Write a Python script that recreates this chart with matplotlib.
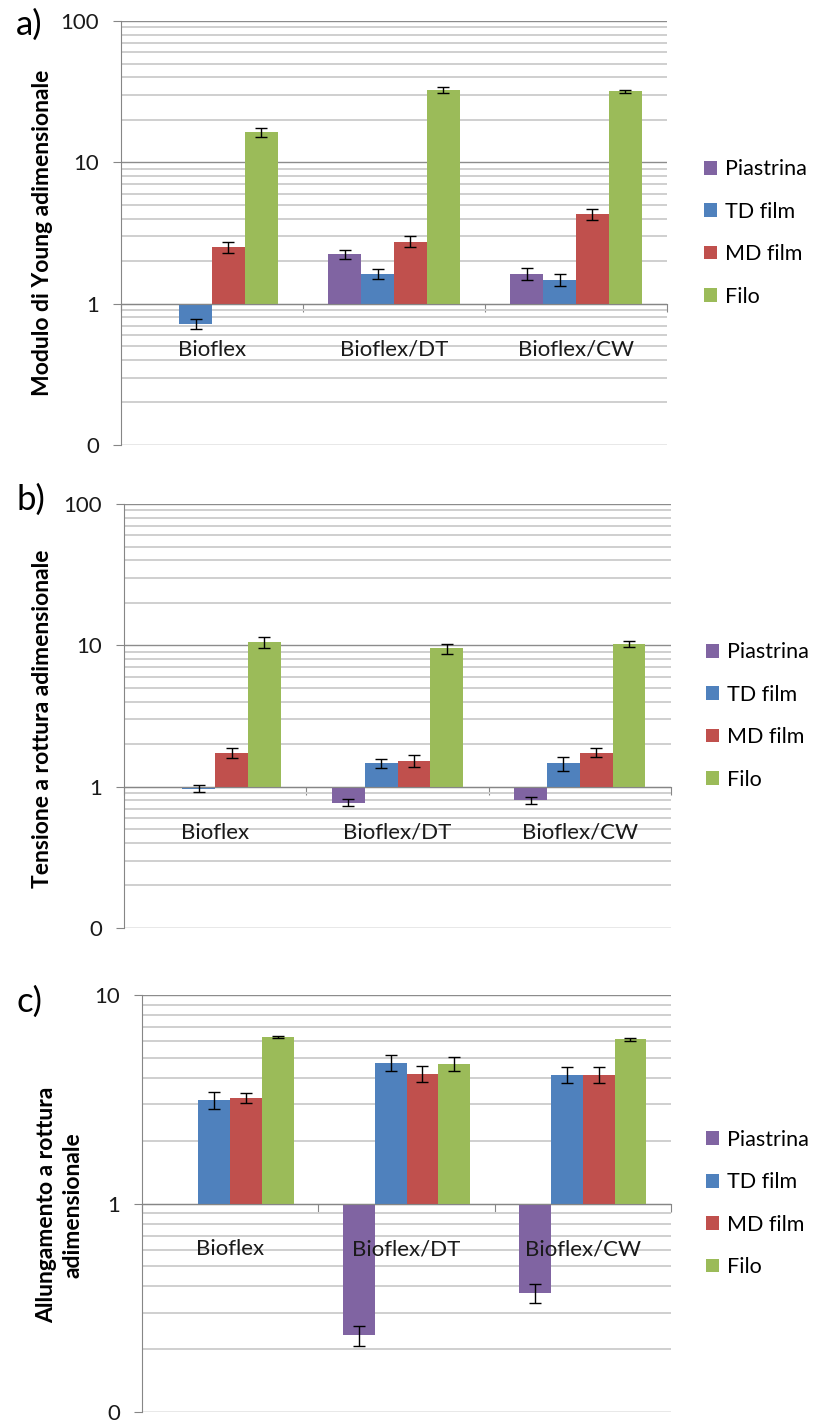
import matplotlib
matplotlib.use("Agg")
import matplotlib.pyplot as plt
import numpy as np

nan = np.nan

categories = ["Bioflex", "Bioflex/DT", "Bioflex/CW"]
series = ["Piastrina", "TD film", "MD film", "Filo"]
colors = ["#8064A2", "#4F81BD", "#C0504D", "#9BBB59"]

# a) Modulo di Young
young_piastrina = [nan, 2.23, 1.63]
young_td = [0.72, 1.63, 1.48]
young_md = [2.5, 2.75, 4.28]
young_filo = [16.3, 32.4, 31.9]
young_piastrina_err = [nan, 0.16, 0.15]
young_td_err = [0.06, 0.14, 0.15]
young_md_err = [0.22, 0.25, 0.38]
young_filo_err = [1.2, 1.6, 0.8]

# b) Tensione a rottura
tens_piastrina = [nan, 0.77, 0.80]
tens_td = [0.97, 1.46, 1.46]
tens_md = [1.74, 1.53, 1.74]
tens_filo = [10.5, 9.5, 10.3]
tens_piastrina_err = [nan, 0.045, 0.04]
tens_td_err = [0.06, 0.10, 0.16]
tens_md_err = [0.15, 0.15, 0.13]
tens_filo_err = [0.9, 0.8, 0.5]

# c) Allungamento a rottura
allu_piastrina = [nan, 0.233, 0.372]
allu_td = [3.13, 4.73, 4.15]
allu_md = [3.2, 4.2, 4.15]
allu_filo = [6.3, 4.68, 6.13]
allu_piastrina_err = [nan, 0.025, 0.037]
allu_td_err = [0.3, 0.4, 0.36]
allu_md_err = [0.17, 0.38, 0.37]
allu_filo_err = [0.07, 0.38, 0.1]

plt.rcParams['font.family'] = ['Lato', 'DejaVu Sans']

W, H = 814, 1426


def fig_rect(left, top, right, bottom):
    return [left / W, 1 - bottom / H, (right - left) / W, (bottom - top) / H]


def panel(fig, rect, vals, errs, ymax, ylabel, ylabel_pos, letter, letter_pos, legend_x):
    ax = fig.add_axes(rect)
    ax.set_yscale('log')
    ax.set_ylim(0.1, ymax)
    ax.set_xlim(-0.5, 2.5)

    x = np.arange(len(categories))
    width = 0.18
    for i, (v, e) in enumerate(zip(vals, errs)):
        v = np.array(v, dtype=float)
        xi = x + (i - 1.5) * width
        ax.bar(xi, v - 1, bottom=1, width=width, color=colors[i],
               label=series[i], zorder=2, linewidth=0)
        ax.errorbar(xi, v, yerr=e, fmt='none', ecolor='black',
                    elinewidth=1, capsize=4, capthick=1, zorder=3)

    # y axis
    ticks = [10 ** k for k in range(-1, int(round(np.log10(ymax))) + 1)]
    ax.set_yticks(ticks)
    ax.set_yticklabels(["0" if t < 1 else "%d" % t for t in ticks])
    ax.yaxis.set_minor_formatter(matplotlib.ticker.NullFormatter())
    ax.tick_params(axis='y', which='major', direction='out', length=6,
                   color='#868686', labelsize=16, pad=10, labelcolor='#1a1a1a')
    ax.tick_params(axis='y', which='minor', length=0)
    ax.grid(True, axis='y', which='major', color='#8c8c8c', lw=1)
    ax.grid(True, axis='y', which='minor', color='#cfcfcf', lw=1.4)
    ax.set_axisbelow(True)

    # category axis crossing at 1
    for s in ['top', 'right']:
        ax.spines[s].set_visible(False)
    ax.spines['left'].set_color('#868686')
    ax.spines['bottom'].set_color('#868686')
    ax.spines['bottom'].set_position(('data', 1))
    ax.set_xticks(np.arange(len(categories) + 1) - 0.5)
    ax.set_xticklabels([])
    ax.tick_params(axis='x', direction='out', length=6, color='#868686')
    for xi, c in zip(x, categories):
        ax.annotate(c, xy=(xi, 1), xytext=(0, -33), textcoords='offset points',
                    ha='center', va='center', fontsize=16, color='#1a1a1a',
                    zorder=5)

    fig.text(ylabel_pos[0] / W, 1 - ylabel_pos[1] / H, ylabel, rotation=90,
             ha='center', va='center', fontsize=16.5, fontweight='bold',
             multialignment='center', linespacing=1.3)
    fig.text(letter_pos[0] / W, 1 - letter_pos[1] / H, letter,
             ha='center', va='center', fontsize=25)

    ax.legend(loc='center left', bbox_to_anchor=(legend_x / W, 0.5),
              bbox_transform=matplotlib.transforms.blended_transform_factory(
                  fig.transFigure, ax.transAxes),
              frameon=False, fontsize=15.5, handlelength=0.6, handleheight=0.6,
              handletextpad=0.37, labelspacing=1.04, borderpad=0,
              borderaxespad=0)
    return ax


def main():
    fig = plt.figure(figsize=(W / 100, H / 100), dpi=100)

    panel(fig, fig_rect(121, 21, 667, 445),
          [young_piastrina, young_td, young_md, young_filo],
          [young_piastrina_err, young_td_err, young_md_err, young_filo_err],
          100, "Modulo di Young adimensionale", (43, 233), "a)", (29, 25), 704)

    panel(fig, fig_rect(124, 504, 671, 928),
          [tens_piastrina, tens_td, tens_md, tens_filo],
          [tens_piastrina_err, tens_td_err, tens_md_err, tens_filo_err],
          100, "Tensione a rottura adimensionale", (43, 719), "b)", (31, 500), 706)

    panel(fig, fig_rect(142, 995, 671, 1412),
          [allu_piastrina, allu_td, allu_md, allu_filo],
          [allu_piastrina_err, allu_td_err, allu_md_err, allu_filo_err],
          10, "Allungamento a rottura\nadimensionale", (60, 1205), "c)", (30, 1002), 706)

    fig.savefig("out.png", dpi=100)


if __name__ == "__main__":
    main()
